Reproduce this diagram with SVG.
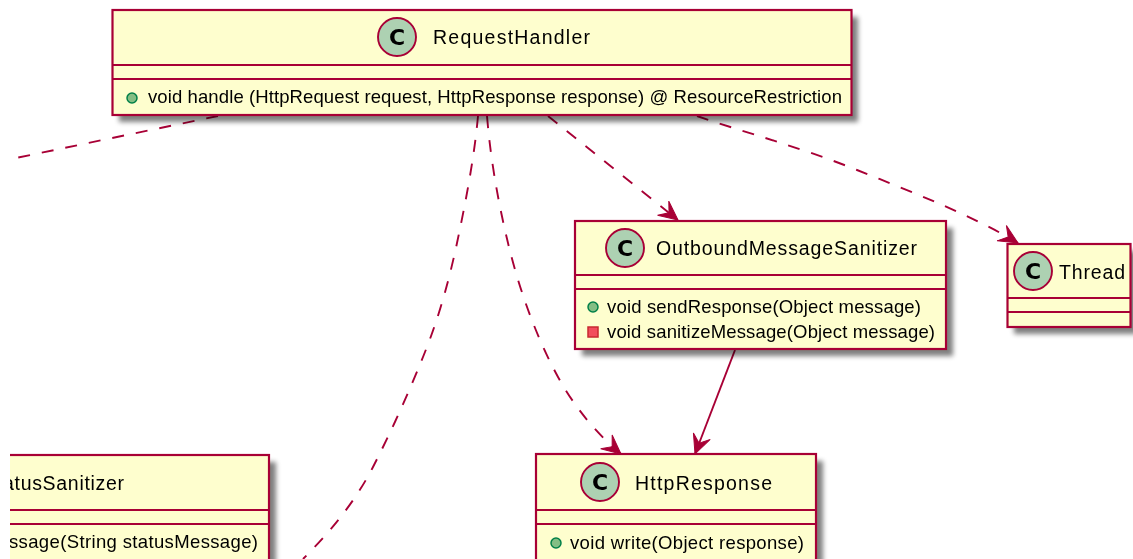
<svg xmlns="http://www.w3.org/2000/svg" width="1133" height="559" viewBox="0 0 1133 559">
<style>
.box{fill:#FEFECE;stroke:#A80036;stroke-width:2.2}
.shadow{fill:#000;opacity:.5;filter:url(#blur)}
.sep{stroke:#A80036;stroke-width:2.2;fill:none}
.spot{fill:#ADD1B2;stroke:#A80036;stroke-width:1.9}
.c{font:bold 22px "DejaVu Sans",Arial,sans-serif;fill:#000;text-anchor:middle}
.title{font:19.500px "Liberation Sans",Arial,sans-serif;fill:#000}
.member{font:18.500px "Liberation Sans",Arial,sans-serif;fill:#000}
.pub{fill:#84BE84;stroke:#038048;stroke-width:1.5}
.priv{fill:#F24D5C;stroke:#C82930;stroke-width:1.5}
.conn{fill:none;stroke:#A80036;stroke-width:1.9}
.dash{stroke-dasharray:12 12}
.arrow{marker-end:url(#head)}
</style>
<defs>
<filter id="blur" x="-10%" y="-20%" width="120%" height="140%"><feGaussianBlur stdDeviation="2.4"/></filter>
<filter id="soft" filterUnits="userSpaceOnUse" x="0" y="0" width="1133" height="559"><feGaussianBlur stdDeviation="0.6"/></filter>
<marker id="head" markerUnits="userSpaceOnUse" markerWidth="24" markerHeight="22" refX="21" refY="11" orient="auto">
<path d="M21,11 L2,2 L9.500,11 L2,20 Z" fill="#A80036" stroke="#A80036" stroke-width="1"/>
</marker>
<clipPath id="clipL"><rect x="10" y="0" width="1123" height="559"/></clipPath>
</defs>
<rect width="1133" height="559" fill="#fff"/>
<g filter="url(#soft)">
<g id="connectors">
<path class="conn dash" d="M218,116 L16,158"/>
<path class="conn dash" d="M478,116 C474,160 465,205 457,243 C447,290 436,325 423,357 C409,392 391,432 373,467 C355,502 330,532 303,559"/>
<path class="conn dash arrow" d="M487,116 C491,165 500,210 508,243 C518,285 535,335 558,377 C575,408 597,434 621,454"/>
<path class="conn dash arrow" d="M548,116 L678,220"/>
<path class="conn dash arrow" d="M697,116 C740,131 800,147 857,170 C915,193 975,217 1018,243"/>
<path class="conn arrow" d="M735,350 L695,454"/>
</g>
<g id="RequestHandler">
<rect class="shadow" x="119" y="17" width="739" height="105"/>
<rect class="box" x="112.500" y="10" width="739" height="105"/>
<path class="sep" d="M112.500,65H851.500M112.500,79H851.500"/>
<circle class="spot" cx="397" cy="37" r="19"/>
<text class="c" x="397" y="45">C</text>
<text class="title" x="433" y="44" textLength="157">RequestHandler</text>
<circle class="pub" cx="132" cy="98" r="5"/>
<text class="member" x="148" y="103" textLength="694">void handle (HttpRequest request, HttpResponse response) @ ResourceRestriction</text>
</g>
<g id="OutboundMessageSanitizer">
<rect class="shadow" x="582" y="228" width="371" height="128"/>
<rect class="box" x="575" y="221" width="371" height="128"/>
<path class="sep" d="M575,275H946M575,289H946"/>
<circle class="spot" cx="625" cy="248" r="19"/>
<text class="c" x="625" y="256">C</text>
<text class="title" x="656" y="255" textLength="261">OutboundMessageSanitizer</text>
<circle class="pub" cx="593" cy="307" r="5"/>
<text class="member" x="607" y="313" textLength="314">void sendResponse(Object message)</text>
<rect class="priv" x="588" y="327" width="10" height="10"/>
<text class="member" x="607" y="338" textLength="328">void sanitizeMessage(Object message)</text>
</g>
<g id="Thread">
<rect class="shadow" x="1014" y="251" width="123" height="83"/>
<rect class="box" x="1007.500" y="244" width="123" height="83"/>
<path class="sep" d="M1007.500,298H1130.500M1007.500,312H1130.500"/>
<circle class="spot" cx="1033" cy="271" r="19"/>
<text class="c" x="1033" y="279">C</text>
<text class="title" x="1059" y="279" textLength="66">Thread</text>
</g>
<g id="HttpResponse">
<rect class="shadow" x="543" y="461" width="280" height="110"/>
<rect class="box" x="536" y="454" width="280" height="110"/>
<path class="sep" d="M536,510H816M536,524H816"/>
<circle class="spot" cx="600" cy="482" r="19"/>
<text class="c" x="600" y="490">C</text>
<text class="title" x="635" y="490" textLength="137">HttpResponse</text>
<circle class="pub" cx="556" cy="543" r="5"/>
<text class="member" x="570" y="549" textLength="234">void write(Object response)</text>
</g>
<g id="StatusSanitizer" clip-path="url(#clipL)">
<rect class="shadow" x="-9" y="462" width="285" height="110"/>
<rect class="box" x="-16" y="455" width="285" height="110"/>
<path class="sep" d="M-16,510H269M-16,524H269"/>
<text class="title" x="3" y="490" textLength="121">atusSanitizer</text>
<text class="member" x="9" y="548" textLength="249">ssage(String statusMessage)</text>
</g>
</g>
</svg>
